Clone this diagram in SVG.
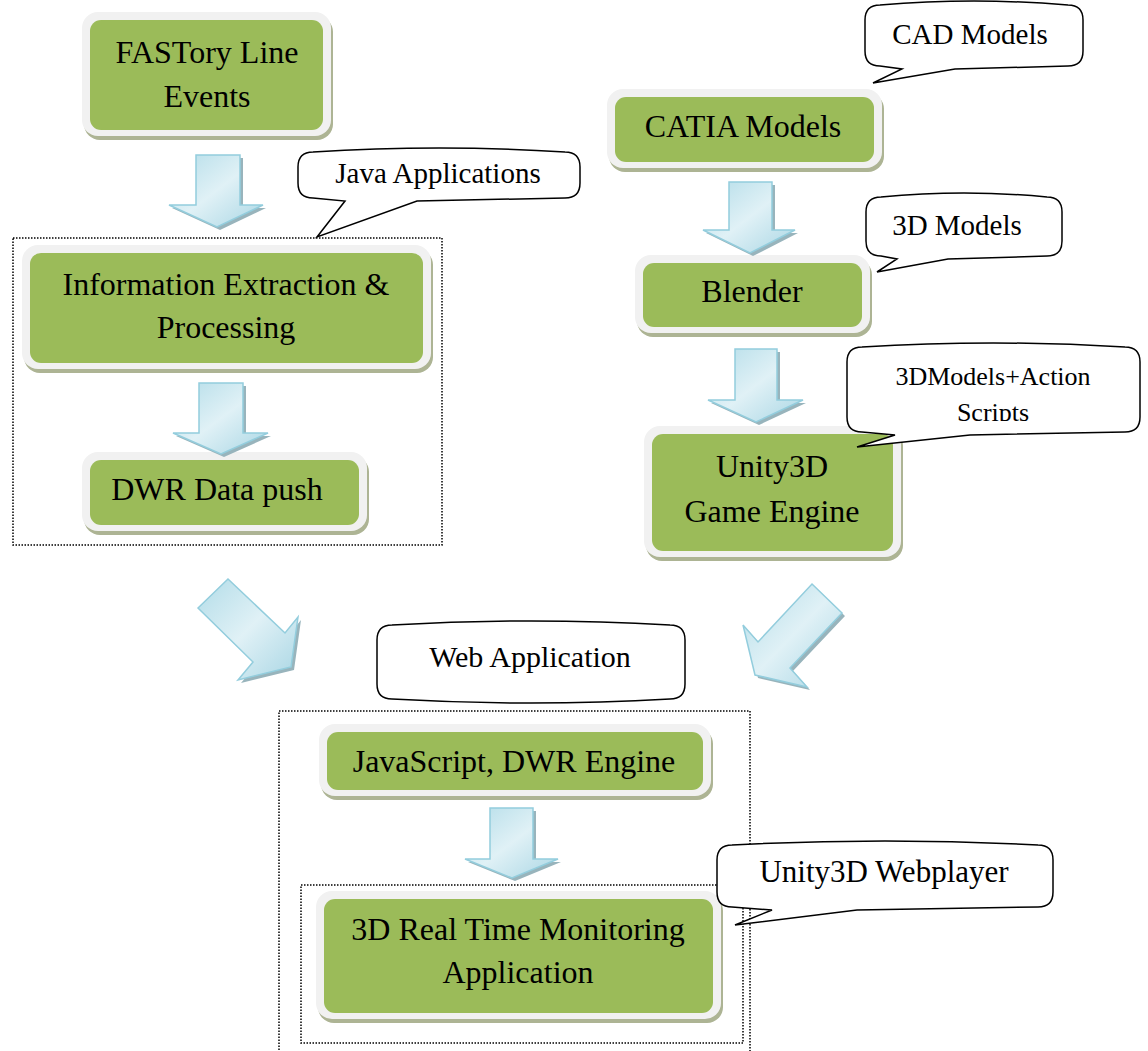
<svg xmlns="http://www.w3.org/2000/svg" width="1148" height="1051" viewBox="0 0 1148 1051">
<defs>
<style>
.fshadow{fill:#adb494}
.frame{fill:#f1f1f1}
.green{fill:#9bbb59}
.nt{font-family:"Liberation Serif","Times New Roman",serif;font-size:32px;fill:#000;text-anchor:middle}
.ct{font-family:"Liberation Serif","Times New Roman",serif;font-size:29px;fill:#000;text-anchor:middle}
.callout{fill:#fff;stroke:#000;stroke-width:1.5;stroke-linejoin:miter}
.dots{fill:none;stroke:#000;stroke-width:1.5;stroke-dasharray:1.5 1.5}
.arrow{fill:url(#ag);stroke:#93cddd;stroke-width:1.5;stroke-linejoin:miter}
.ashadow{fill:#98b4bc}
</style>
<linearGradient id="ag" x1="0" y1="0" x2="1" y2="1">
<stop offset="0" stop-color="#b2dce8"/>
<stop offset="0.5" stop-color="#e0f1f6"/>
<stop offset="1" stop-color="#a9d6e4"/>
</linearGradient>
<clipPath id="clipScripts"><rect x="847" y="347" width="293" height="74"/></clipPath>
</defs>

<!-- dotted group boxes -->
<g id="groups">
<rect class="dots" x="13" y="238" width="429" height="307"/>
<rect class="dots" x="279" y="711" width="471" height="360"/>
<rect class="dots" x="301" y="885" width="442" height="158"/>
</g>

<!-- nodes -->
<g id="node-fastory">
<rect class="fshadow" x="84" y="16" width="249" height="124" rx="16"/>
<rect class="frame" x="82" y="12" width="249" height="124" rx="16"/>
<rect class="green" x="90" y="20" width="233" height="110" rx="11"/>
<text class="nt" x="207" y="63">FASTory Line</text>
<text class="nt" x="207" y="107">Events</text>
</g>
<g id="node-info">
<rect class="fshadow" x="24" y="249" width="409" height="124" rx="16"/>
<rect class="frame" x="22" y="245" width="409" height="124" rx="16"/>
<rect class="green" x="30" y="253" width="393" height="110" rx="11"/>
<text class="nt" x="226" y="295">Information Extraction &amp;</text>
<text class="nt" x="226" y="338">Processing</text>
</g>
<g id="node-dwr">
<rect class="fshadow" x="84" y="456" width="285" height="79" rx="16"/>
<rect class="frame" x="82" y="452" width="285" height="79" rx="16"/>
<rect class="green" x="90" y="460" width="269" height="65" rx="11"/>
<text class="nt" x="217" y="500">DWR Data push</text>
</g>
<g id="node-catia">
<rect class="fshadow" x="609" y="93" width="275" height="79" rx="16"/>
<rect class="frame" x="607" y="89" width="275" height="79" rx="16"/>
<rect class="green" x="615" y="97" width="259" height="65" rx="11"/>
<text class="nt" x="743" y="137">CATIA Models</text>
</g>
<g id="node-blender">
<rect class="fshadow" x="637" y="259" width="235" height="78" rx="16"/>
<rect class="frame" x="635" y="255" width="235" height="78" rx="16"/>
<rect class="green" x="643" y="263" width="219" height="64" rx="11"/>
<text class="nt" x="752" y="302">Blender</text>
</g>
<g id="node-unity">
<rect class="fshadow" x="646" y="430" width="257" height="131" rx="16"/>
<rect class="frame" x="644" y="426" width="257" height="131" rx="16"/>
<rect class="green" x="652" y="434" width="241" height="117" rx="11"/>
<text class="nt" x="772" y="477">Unity3D</text>
<text class="nt" x="772" y="522">Game Engine</text>
</g>
<g id="node-js">
<rect class="fshadow" x="321" y="728" width="392" height="72" rx="16"/>
<rect class="frame" x="319" y="724" width="392" height="72" rx="16"/>
<rect class="green" x="327" y="732" width="376" height="58" rx="11"/>
<text class="nt" x="514" y="772">JavaScript, DWR Engine</text>
</g>
<g id="node-3drt">
<rect class="fshadow" x="318" y="895" width="405" height="128" rx="16"/>
<rect class="frame" x="316" y="891" width="405" height="128" rx="16"/>
<rect class="green" x="324" y="899" width="389" height="114" rx="11"/>
<text class="nt" x="518" y="940">3D Real Time Monitoring</text>
<text class="nt" x="518" y="983">Application</text>
</g>

<!-- connectors (block arrows) -->
<g id="connectors">
<g transform="translate(3,3)">
<polygon class="ashadow" points="196,155 240,155 240,205 263,205 217,227 169,205 196,205"/>
<polygon class="ashadow" points="199,383 243,383 243,433 268,433 221,454 173,433 199,433"/>
<polygon class="ashadow" points="729,182 772,182 772,230 795,230 750,253 703,230 729,230"/>
<polygon class="ashadow" points="735,349 777,349 777,400 803,400 756,422 708,400 735,400"/>
<polygon class="ashadow" points="490,808 533,808 533,859 558,859 512,878 465,859 490,859"/>
<polygon class="ashadow" points="198,608 228,579 285,633 298,617 291,667 238,680 253,662"/>
<polygon class="ashadow" points="812,584 842,613 790,668 807,687 755,675 743,625 758,642"/>
</g>
<polygon class="arrow" points="196,155 240,155 240,205 263,205 217,227 169,205 196,205"/>
<polygon class="arrow" points="199,383 243,383 243,433 268,433 221,454 173,433 199,433"/>
<polygon class="arrow" points="729,182 772,182 772,230 795,230 750,253 703,230 729,230"/>
<polygon class="arrow" points="735,349 777,349 777,400 803,400 756,422 708,400 735,400"/>
<polygon class="arrow" points="490,808 533,808 533,859 558,859 512,878 465,859 490,859"/>
<polygon class="arrow" points="198,608 228,579 285,633 298,617 291,667 238,680 253,662"/>
<polygon class="arrow" points="812,584 842,613 790,668 807,687 755,675 743,625 758,642"/>
</g>

<!-- callouts -->
<g id="callout-java">
<path class="callout" d="M313,152 Q439,144 565,152 Q580,152 580,167 L580,183 Q580,198 565,198 L417,201 L317,237 L345,201 L313,198 Q298,198 298,183 L298,167 Q298,152 313,152 Z"/>
<text class="ct" x="438" y="183">Java Applications</text>
</g>
<g id="callout-cad">
<path class="callout" d="M880,5 Q974,-3 1068,5 Q1083,5 1083,20 L1083,51 Q1083,66 1068,66 L955,69 L873,83 L902,69 L880,66 Q865,66 865,51 L865,20 Q865,5 880,5 Z"/>
<text class="ct" x="970" y="44">CAD Models</text>
</g>
<g id="callout-3d">
<path class="callout" d="M881,197 Q964,189 1047,197 Q1062,197 1062,212 L1062,241 Q1062,256 1047,256 L948,259 L877,272 L897,259 L881,256 Q866,256 866,241 L866,212 Q866,197 881,197 Z"/>
<text class="ct" x="957" y="235">3D Models</text>
</g>
<g id="callout-3dma">
<path class="callout" d="M862,347 Q993,339 1125,347 Q1140,347 1140,362 L1140,417 Q1140,432 1125,432 L970,435 L857,447 L895,435 L862,432 Q847,432 847,417 L847,362 Q847,347 862,347 Z"/>
<g clip-path="url(#clipScripts)">
<text class="ct" style="font-size:26px" x="993" y="385">3DModels+Action</text>
<text class="ct" style="font-size:26px" x="993" y="421">Scripts</text>
</g>
</g>
<g id="callout-web">
<path class="callout" d="M392,625 Q531,617 670,625 Q685,625 685,640 L685,684 Q685,699 670,699 Q531,707 392,699 Q377,699 377,684 L377,640 Q377,625 392,625 Z"/>
<text class="ct" style="font-size:30px" x="530" y="667">Web Application</text>
</g>
<g id="callout-webplayer">
<path class="callout" d="M732,845 Q885,837 1038,845 Q1053,845 1053,860 L1053,892 Q1053,907 1038,907 L857,910 L735,925 L772,910 L732,907 Q717,907 717,892 L717,860 Q717,845 732,845 Z"/>
<text class="ct" style="font-size:31px" x="884" y="882">Unity3D Webplayer</text>
</g>
</svg>
